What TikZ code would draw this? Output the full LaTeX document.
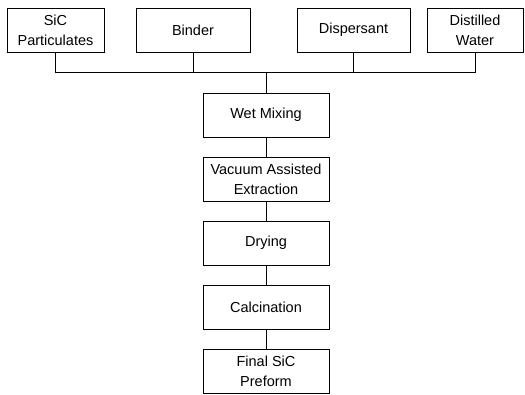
\documentclass[tikz,border=0pt]{standalone}
\usepackage{fontspec}
\setmainfont{Liberation Sans}
\usetikzlibrary{positioning}

\begin{document}
\begin{tikzpicture}[
  x=1pt,y=1pt,
  font=\fontsize{14.5}{20}\selectfont,
  input/.style={draw,line width=0.6pt,align=center,inner sep=1pt,
                minimum height=44pt},
  stage/.style={draw,line width=0.6pt,align=center,inner sep=1pt,
                minimum height=44pt,minimum width=126pt},
  link/.style={line width=0.6pt}]
\useasboundingbox (0,0) rectangle (525,395);

% raw materials
\node[input,minimum width=97pt]  (sic)    at (55.5,365) {SiC\\ Particulates};
\node[input,minimum width=114pt] (binder) at (193,365)  {Binder};
\node[input,minimum width=113pt] (disp)   at (353.5,365) {Dispersant};
\node[input,minimum width=96pt]  (water)  at (475,365)  {Distilled\\ Water};
\coordinate (bus) at (266,323);

% process chain
\node[stage] (wet) at (266,280) {Wet Mixing};
\node[stage,below=19.5pt of wet] (vac) {Vacuum Assisted\\ Extraction};
\node[stage,below=19.5pt of vac] (dry) {Drying};
\node[stage,below=19.5pt of dry] (calc) {Calcination};
\node[stage,below=19.5pt of calc] (final) {Final SiC\\ Preform};

\draw[link] (sic.south) |- (bus);
\draw[link] (water.south) |- (bus);
\draw[link] (binder.south) -- (binder.south |- bus);
\draw[link] (disp.south) -- (disp.south |- bus);
\draw[link] (bus) -- (wet);
\draw[link] (wet) -- (vac);
\draw[link] (vac) -- (dry);
\draw[link] (dry) -- (calc);
\draw[link] (calc) -- (final);
\end{tikzpicture}
\end{document}
